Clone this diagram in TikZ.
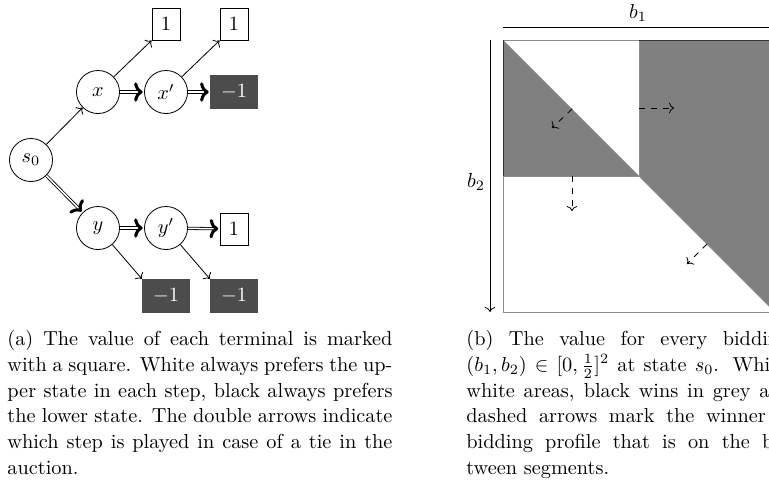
\documentclass[tikz,border=0pt]{standalone}
\usetikzlibrary{arrows.meta}
\begin{document}
\begin{tikzpicture}[x=0.4926pt,y=-0.4926pt,
  state/.style={draw,circle,minimum size=21.2pt,inner sep=0pt},
  winbox/.style={draw,rectangle,minimum width=13.8pt,minimum height=15.8pt,inner sep=0pt},
  losebox/.style={fill=black!70,text=white,rectangle,minimum width=23.2pt,minimum height=16.3pt,inner sep=0pt},
  plainarrow/.style={->},
  tiearrow/.style={-{To[length=4.2pt,width=9.5pt,line width=1.5pt]},double,double distance=0.75pt,line width=0.4pt,shorten >=0.7pt},
  greyregion/.style={fill=black!50},
  winnerarrow/.style={->,dashed},
  captext/.style={anchor=north west,inner sep=0pt,text width=189.7pt,align=justify,font=\fontsize{10pt}{12.66pt}\selectfont}]
\clip (0,0) rectangle (769,482);
\useasboundingbox (0,0) rectangle (769,482);
% ---- (a) game tree
\node[state] (s0) at (31,160) {$s_0$};
\node[state] (x) at (98,92) {$x$};
\node[state] (xp) at (166,92) {$x'$};
\node[state] (y) at (98,228) {$y$};
\node[state] (yp) at (166,228) {$y'$};
\node[winbox] (w1) at (166,24) {$1$};
\node[winbox] (w2) at (234,24) {$1$};
\node[losebox] (l1) at (234,92) {$-1$};
\node[winbox] (w3) at (234,229) {$1$};
\node[losebox] (l2) at (166,296) {$-1$};
\node[losebox] (l3) at (234,296) {$-1$};
\draw[plainarrow] (s0) -- (x);
\draw[plainarrow] (x) -- (w1.south west);
\draw[plainarrow] (xp) -- (w2.south west);
\draw[plainarrow] (y) -- (l2.north west);
\draw[plainarrow] (yp) -- (l3.north west);
\draw[tiearrow] (x) -- (xp);
\draw[tiearrow] (xp) -- (l1);
\draw[tiearrow] (s0) -- (y);
\draw[tiearrow] (y) -- (yp);
\draw[tiearrow] (yp) -- (w3);
% ---- (b) bidding square
\coordinate (tl) at (503,40);
\coordinate (tr) at (775,40);
\coordinate (bl) at (503,312);
\coordinate (br) at (775,312);
\coordinate (c) at (639,176);
\coordinate (tm) at (639,40);
\coordinate (lm) at (503,176);
\fill[greyregion] (tl) -- (c) -- (lm) -- cycle;
\fill[greyregion] (tm) -- (tr) -- (br) -- (c) -- cycle;
\draw[black!45] (tl) rectangle (br);
\draw[black!45] (tm) -- (c) -- (lm);
\draw[black!45] (c) -- (br);
\draw[black!80] (tl) -- (lm);
\draw[black!80] (tm) -- (tr);
\coordinate (ax1s) at (503,27);
\coordinate (ax1e) at (790,27);
\draw (ax1s) -- (ax1e);
\node (b1) at (638,13) {$b_1$};
\coordinate (ax2s) at (490,40);
\coordinate (ax2e) at (490,312);
\draw[->] (ax2s) -- (ax2e);
\node (b2) at (476,182) {$b_2$};
\coordinate (d1s) at (572,109);
\coordinate (d1e) at (552,128);
\coordinate (d2s) at (639,108);
\coordinate (d2e) at (674,108);
\coordinate (d3s) at (572,176);
\coordinate (d3e) at (572,211);
\coordinate (d4s) at (707,244);
\coordinate (d4e) at (687,264);
\draw[winnerarrow] (d1s) -- (d1e);
\draw[winnerarrow] (d2s) -- (d2e);
\draw[winnerarrow] (d3s) -- (d3e);
\draw[winnerarrow] (d4s) -- (d4e);
% ---- captions
\node[captext] (capa) at (7,330) {(a) The value of each terminal is marked with a square. White always prefers the upper state in each step, black always prefers the lower state. The double arrows indicate which step is played in case of a tie in the auction.};
\node[captext,text width=194pt] (capb) at (466,330) {(b) The value for every bidding profile\linebreak $(b_1,b_2)\in[0,\frac{1}{2}]^2$ at state $s_0$. White wins in\linebreak white areas, black wins in grey areas. The\linebreak dashed arrows mark the winner for every\linebreak bidding profile that is on the border be-\linebreak tween segments.};
\end{tikzpicture}
\end{document}
